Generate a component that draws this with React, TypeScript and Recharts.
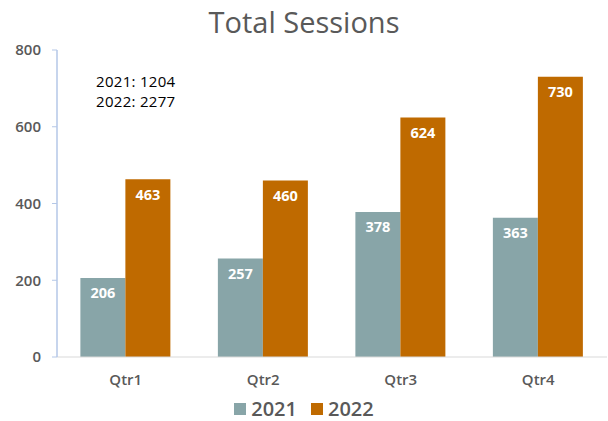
import React from 'react';
import { BarChart, Bar, XAxis, YAxis, Legend, LabelList } from 'recharts';

const categories = ['Qtr1', 'Qtr2', 'Qtr3', 'Qtr4'];
const values2021 = [206, 257, 378, 363];
const values2022 = [463, 460, 624, 730];
const yTicks = [0, 200, 400, 600, 800];
const totalsText = ['2021: 1204', '2022: 2277'];
const title = 'Total Sessions';

const data = categories.map((c, i) => ({ name: c, y2021: values2021[i], y2022: values2022[i] }));

const C2021 = '#88A5A8';
const C2022 = '#BF6A00';
const FONT = '"Open Sans", sans-serif';

const renderLegend = () => (
  <div style={{ display: 'flex', justifyContent: 'center', alignItems: 'center', height: 30, lineHeight: '30px', fontFamily: FONT, fontSize: 20, fontWeight: 600, color: '#595959' }}>
    <span style={{ width: 12, height: 12, background: C2021, display: 'inline-block', marginRight: 5 }} />
    <span style={{ marginRight: 14 }}>2021</span>
    <span style={{ width: 12, height: 12, background: C2022, display: 'inline-block', marginRight: 5 }} />
    <span>2022</span>
  </div>
);

export default function App() {
  return (
    <div style={{ position: 'absolute', left: 0, top: 0, width: 608, height: 421, background: '#fff' }}>
      <div style={{ position: 'absolute', left: 0, top: 2, width: 608, textAlign: 'center', fontFamily: FONT, fontSize: 29, fontWeight: 500, color: '#595959' }}>{title}</div>
      <div style={{ position: 'absolute', left: 96, top: 71, fontFamily: FONT, fontSize: 15, fontWeight: 500, color: '#000', lineHeight: '20px', letterSpacing: 0.3 }}>
        {totalsText.map((t) => <div key={t}>{t}</div>)}
      </div>
      <BarChart width={608} height={421} data={data} margin={{ top: 50, right: 1, left: 0, bottom: 0 }} barCategoryGap="17%" barGap={0}>
        <XAxis dataKey="name" height={64} tickLine={false} axisLine={{ stroke: '#D9D9D9' }} tickSize={0} tickMargin={17}
          tick={{ fill: '#595959', fontFamily: FONT, fontSize: 15, fontWeight: 600 }} />
        <YAxis width={57} domain={[0, 800]} ticks={yTicks} axisLine={{ stroke: '#B4C7E7', strokeWidth: 1.5 }} tickLine={{ stroke: '#B4C7E7' }}
          tickSize={5} tickMargin={11} tick={{ fill: '#595959', fontFamily: FONT, fontSize: 15, fontWeight: 600 }} />
        <Legend layout="horizontal" verticalAlign="middle" align="center" content={renderLegend}
          wrapperStyle={{ top: 394, left: 0, width: 608, height: 30 }} />
        <Bar dataKey="y2021" name="2021" fill={C2021} isAnimationActive={false}>
          <LabelList dataKey="y2021" position="insideTop" offset={10} fill="#fff" fontFamily={FONT} fontSize={14.5} fontWeight={700} />
        </Bar>
        <Bar dataKey="y2022" name="2022" fill={C2022} isAnimationActive={false}>
          <LabelList dataKey="y2022" position="insideTop" offset={10} fill="#fff" fontFamily={FONT} fontSize={14.5} fontWeight={700} />
        </Bar>
      </BarChart>
    </div>
  );
}
